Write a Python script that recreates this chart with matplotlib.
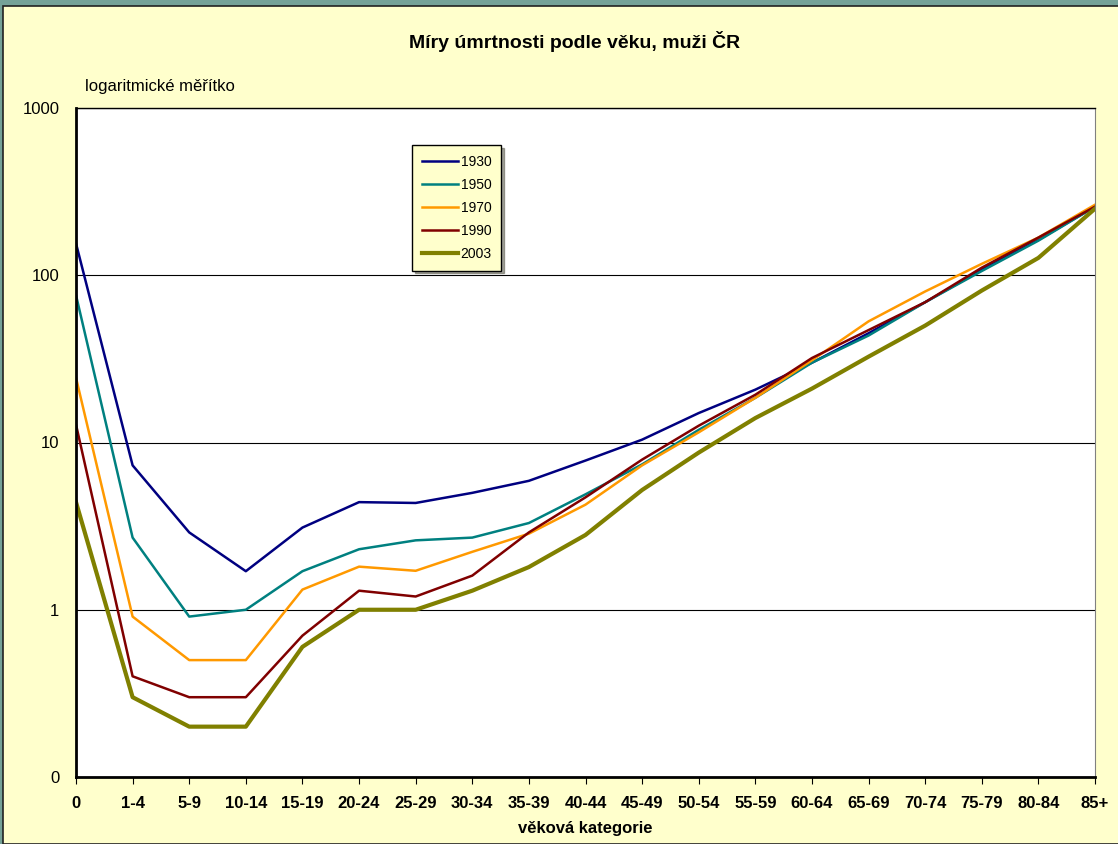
import matplotlib
matplotlib.use("Agg")
from matplotlib import pyplot as plt
from matplotlib.patches import Rectangle
from matplotlib.ticker import FixedLocator, FixedFormatter, NullLocator

plt.rcParams['font.family'] = ['Liberation Sans', 'DejaVu Sans']

# věkové kategorie
kategorie = ["0", "1-4", "5-9", "10-14", "15-19", "20-24", "25-29", "30-34", "35-39",
             "40-44", "45-49", "50-54", "55-59", "60-64", "65-69", "70-74", "75-79",
             "80-84", "85+"]

# míry úmrtnosti
m1930 = [155, 7.3, 2.9, 1.7, 3.1, 4.4, 4.35, 5.0, 5.9, 7.8, 10.4, 15, 20.7, 30, 45, 69, 108, 163, 257]
m1950 = [76, 2.7, 0.91, 1.0, 1.7, 2.3, 2.6, 2.7, 3.3, 4.9, 7.4, 11.9, 18.5, 30, 43.6, 69, 106, 161, 257]
m1970 = [24.4, 0.91, 0.5, 0.5, 1.32, 1.81, 1.71, 2.22, 2.85, 4.25, 7.3, 11.5, 18.5, 31, 53, 80, 117, 168, 264]
m1990 = [12.8, 0.4, 0.3, 0.3, 0.7, 1.3, 1.2, 1.6, 2.9, 4.7, 7.9, 12.6, 19.3, 32, 47, 69, 111, 168, 257]
m2003 = [4.4, 0.3, 0.2, 0.2, 0.6, 1.0, 1.0, 1.3, 1.8, 2.8, 5.2, 8.7, 14, 21, 32.6, 50, 81, 127, 250]

y_ticks = [0.1, 1, 10, 100, 1000]
y_labels = ["0", "1", "10", "100", "1000"]

fig = plt.figure(figsize=(11.18, 8.44), dpi=100, facecolor="#75A298")
# žluté pozadí
fig.patches.append(Rectangle((3/1118, 0), 1, 1 - 6/844, transform=fig.transFigure,
                             facecolor="#FFFFCC", edgecolor="#222222", linewidth=1.2, zorder=-5))

ax = fig.add_axes([76/1118, 1 - 777/844, (1095-76)/1118, (777-108)/844])
ax.set_facecolor("white")

x = list(range(len(kategorie)))
ax.plot(x, m1930, color="#000080", lw=1.8, label="1930")
ax.plot(x, m1950, color="#008080", lw=1.8, label="1950")
ax.plot(x, m1970, color="#FF9900", lw=1.8, label="1970")
ax.plot(x, m1990, color="#800000", lw=1.8, label="1990")
ax.plot(x, m2003, color="#808000", lw=3.0, label="2003")

ax.set_yscale("log")
ax.set_ylim(0.1, 1000)
ax.set_xlim(0, len(kategorie) - 1)
ax.yaxis.set_major_locator(FixedLocator(y_ticks))
ax.yaxis.set_major_formatter(FixedFormatter(y_labels))
ax.yaxis.set_minor_locator(NullLocator())
ax.set_xticks(x)
ax.set_xticklabels(kategorie, fontweight="bold")
ax.tick_params(axis="x", direction="out", length=5, labelsize=12, pad=9)
ax.tick_params(axis="y", direction="out", length=0, labelsize=12, pad=12)
ax.grid(axis="y", color="black", lw=0.8)
for s in ["left", "bottom", "top"]:
    ax.spines[s].set_color("black")
ax.spines["left"].set_linewidth(2)
ax.spines["bottom"].set_linewidth(2)
ax.spines["top"].set_linewidth(1)
ax.spines["right"].set_color("#808080")

ax.set_xlabel("věková kategorie", fontsize=12, fontweight="bold", labelpad=7)
fig.text(575/1118, 1 - 42/844, "Míry úmrtnosti podle věku, muži ČR", ha="center", va="center",
         fontsize=14, fontweight="bold")
fig.text(85/1118, 1 - 87/844, "logaritmické měřítko", ha="left", va="center", fontsize=12)

leg = ax.legend(loc="upper left", bbox_to_anchor=((412-76)/1019, (777-145)/669), fontsize=10,
                frameon=True, fancybox=False, shadow=True, handlelength=2.6, handletextpad=0.2,
                borderpad=0.7, labelspacing=0.65, borderaxespad=0)
leg.get_frame().set_facecolor("#FFFFCC")
leg.get_frame().set_edgecolor("black")
leg.get_frame().set_alpha(1)

fig.savefig("out.png", dpi=100, facecolor=fig.get_facecolor())
